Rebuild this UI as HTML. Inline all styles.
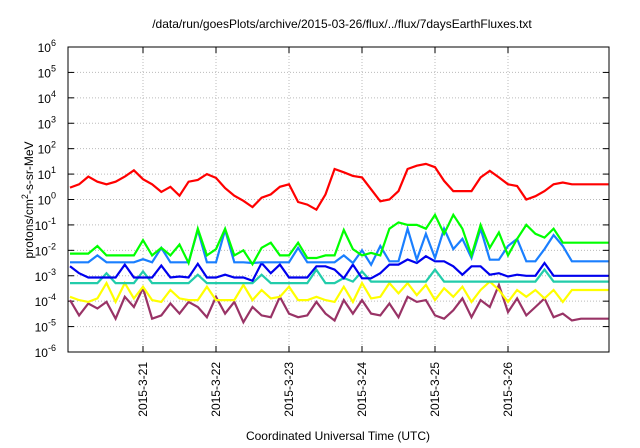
<!DOCTYPE html>
<html><head><meta charset="utf-8"><style>
body{margin:0;background:#fff;font-family:"Liberation Sans",sans-serif}
svg{display:block}
</style></head><body>
<svg id="c" width="640" height="448" xmlns="http://www.w3.org/2000/svg">
<text x="342" y="28" font-size="12" text-anchor="middle">/data/run/goesPlots/archive/2015-03-26/flux/../flux/7daysEarthFluxes.txt</text>
<text x="338" y="440" font-size="12" text-anchor="middle">Coordinated Universal Time (UTC)</text>
<text transform="translate(33,200) rotate(-90)" font-size="12" text-anchor="middle">protons/cm<tspan dy="-5" font-size="9">2</tspan><tspan dy="5">-s-sr-MeV</tspan></text>
</svg>
<script>
const dayLabels=["2015-3-21","2015-3-22","2015-3-23","2015-3-24","2015-3-25","2015-3-26"];
const yExps=[-6,-5,-4,-3,-2,-1,0,1,2,3,4,5,6];
const step=0.125;
const redLog=[0.47,0.6,0.9,0.7,0.6,0.7,0.9,1.15,0.8,0.6,0.3,0.5,0.15,0.7,0.77,1.0,0.85,0.45,0.15,-0.05,-0.3,0.07,0.2,0.5,0.6,-0.1,-0.2,-0.4,0.2,1.2,1.07,0.93,0.87,0.4,-0.07,0,0.33,1.2,1.33,1.4,1.27,0.73,0.33,0.33,0.33,0.87,1.13,0.87,0.6,0.53,0,0.13,0.33,0.6,0.67,0.6,0.6,0.6,0.6,0.6];
const greenLog=[-2.13,-2.13,-2.13,-1.83,-2.2,-2.2,-2.2,-2.2,-1.6,-2.2,-1.9,-2.2,-1.77,-2.5,-1.15,-2.2,-1.95,-1.15,-2.2,-2.0,-2.55,-1.9,-1.7,-2.2,-2.2,-1.7,-2.3,-2.3,-2.2,-2.2,-1.2,-1.95,-2.2,-2.1,-2.2,-1.15,-0.9,-1.0,-1.0,-1.15,-0.6,-1.35,-0.6,-1.15,-2.2,-1.0,-1.9,-1.3,-2.2,-1.55,-1.0,-1.35,-1.5,-1.15,-1.7,-1.7,-1.7,-1.7,-1.7,-1.7];
const skyLog=[-2.47,-2.47,-2.47,-2.2,-2.47,-2.47,-2.47,-2.47,-2.35,-2.47,-1.9,-2.47,-2.47,-2.47,-1.2,-2.47,-2.47,-1.2,-2.47,-2.47,-2.5,-2.47,-2.47,-2.47,-2.47,-1.9,-2.47,-2.47,-2.47,-2.47,-2.2,-2.5,-2.0,-2.57,-1.83,-2.43,-2.43,-1.15,-2.37,-1.35,-2.3,-1.15,-1.95,-1.55,-2.3,-1.15,-2.37,-2.37,-1.83,-1.55,-2.43,-2.43,-1.95,-1.4,-1.83,-2.43,-2.43,-2.43,-2.43,-2.43];
const blueLog=[-2.63,-2.9,-3.07,-3.07,-3.07,-3.07,-2.56,-3.07,-3.07,-3.07,-2.6,-3.07,-3.03,-3.07,-2.53,-3.07,-3.07,-2.96,-3.07,-3.07,-3.2,-2.5,-2.9,-2.56,-3.07,-3.07,-3.07,-2.63,-2.63,-2.76,-3.1,-2.56,-3.1,-3.1,-2.9,-2.56,-2.56,-2.36,-2.5,-2.23,-2.43,-2.43,-2.63,-2.96,-2.63,-2.63,-2.96,-2.9,-3.03,-2.96,-3.0,-3.0,-2.5,-3.0,-3.0,-3.0,-3.0,-3.0,-3.0,-3.0];
const tealLog=[-3.29,-3.29,-3.29,-3.29,-2.9,-3.29,-3.29,-3.29,-2.83,-3.29,-3.29,-3.29,-3.29,-3.29,-2.96,-3.29,-3.29,-3.29,-3.29,-3.29,-3.29,-2.96,-3.29,-3.29,-3.29,-3.29,-3.29,-2.76,-3.29,-3.29,-3.09,-3.23,-2.83,-3.23,-3.23,-3.23,-3.23,-3.23,-3.23,-3.23,-2.76,-3.23,-3.23,-3.23,-3.23,-3.23,-3.23,-3.23,-3.23,-3.23,-3.23,-3.23,-2.76,-3.23,-3.23,-3.23,-3.23,-3.23,-3.23,-3.23];
const yellowLog=[-3.83,-3.96,-4.03,-3.89,-3.29,-4.03,-3.29,-3.89,-3.43,-3.96,-4.03,-3.56,-3.89,-3.96,-3.96,-3.43,-3.96,-3.96,-3.96,-3.36,-3.96,-3.56,-3.89,-3.83,-3.43,-3.96,-3.96,-3.83,-3.96,-4.03,-3.43,-4.03,-3.29,-3.89,-3.83,-3.29,-3.69,-3.29,-3.76,-3.36,-3.96,-3.49,-3.83,-3.43,-4.03,-3.56,-3.23,-3.56,-4.03,-3.56,-3.83,-3.56,-3.89,-3.56,-4.03,-3.56,-3.56,-3.56,-3.56,-3.56];
const purpleLog=[-3.96,-4.56,-4.09,-4.29,-4.03,-4.69,-3.83,-4.23,-3.49,-4.69,-4.56,-4.09,-4.49,-4.03,-4.23,-4.63,-3.83,-4.49,-4.03,-4.83,-4.23,-4.56,-4.63,-3.83,-4.49,-4.63,-4.56,-4.03,-4.49,-4.76,-3.96,-4.49,-3.96,-4.49,-4.56,-4.09,-4.63,-3.83,-4.03,-3.96,-4.56,-4.69,-4.36,-3.89,-4.63,-3.96,-4.23,-3.36,-4.43,-3.89,-4.56,-4.23,-3.89,-4.63,-4.49,-4.76,-4.69,-4.69,-4.69,-4.69];
const L=68,R=609,T=47,B=352;
const xS=d=>70+73*d;
const yS=e=>B-(e+6)*(B-T)/12;
const ns="http://www.w3.org/2000/svg";
const svg=document.getElementById('c');
function mk(t,a){const e=document.createElementNS(ns,t);for(const k in a)e.setAttribute(k,a[k]);svg.appendChild(e);return e;}
yExps.forEach(e=>{const y=yS(e);
 if(e>-6&&e<6){const g=mk('line',{x1:L,x2:R,y1:y,y2:y,stroke:'#bbb','stroke-dasharray':'1,2','stroke-width':1});
 
 }
 const t1=mk('line',{x1:L,x2:L+6,y1:y,y2:y,stroke:'#000'});
 
 
 const t2=mk('line',{x1:R-6,x2:R,y1:y,y2:y,stroke:'#000'});
 
 
 const tx=mk('text',{x:56,y:y+5,'font-size':12,'text-anchor':'end'});
 
 
 tx.innerHTML='10<tspan dy="-6" font-size="9">'+e+'</tspan>';
});
dayLabels.forEach((lab,i)=>{const x=xS(i+1);
 const g=mk('line',{x1:x,x2:x,y1:T,y2:B,stroke:'#bbb','stroke-dasharray':'1,2'});
 
 
 const t1=mk('line',{x1:x,x2:x,y1:B-6,y2:B,stroke:'#000'});
 
 
 const t2=mk('line',{x1:x,x2:x,y1:T,y2:T+6,stroke:'#000'});
 
 
 const tx=mk('text',{transform:`translate(${x+4},${B+10}) rotate(-90)`,'font-size':12,'text-anchor':'end'});
 
 
 tx.textContent=lab;
});
const series=[[purpleLog,'#993366','purple-series'],[yellowLog,'#ffff00','yellow-series'],[tealLog,'#22ccaa','teal-series'],[blueLog,'#0000ee','blue-series'],[skyLog,'#1a7fff','sky-series'],[greenLog,'#00ff00','green-series'],[redLog,'#ff0000','red-series']];
series.forEach(([v,c,n])=>{
 const p=mk('polyline',{points:v.map((e,i)=>xS(i*step).toFixed(1)+','+yS(e).toFixed(1)).join(' '),fill:'none',stroke:c,'stroke-width':2.2,'stroke-linejoin':'miter'});
 
 
});
const f=mk('rect',{x:L,y:T,width:R-L,height:B-T,fill:'none',stroke:'#000'});


</script>
</body></html>
